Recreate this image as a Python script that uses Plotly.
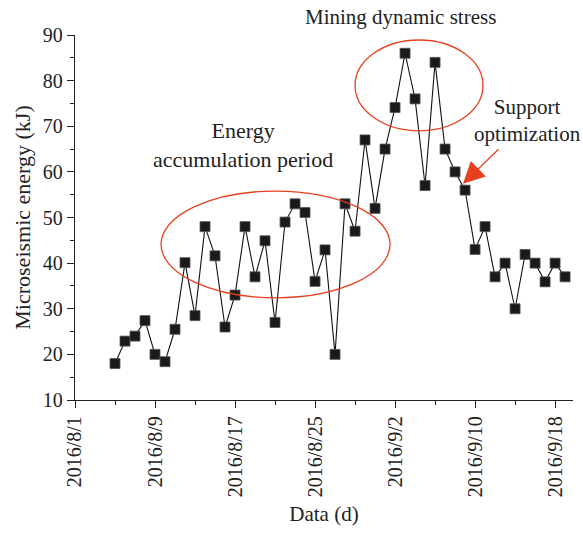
import plotly.graph_objects as go
import pandas as pd

dates = pd.date_range("2016-08-05", "2016-09-19", freq="D").strftime("%Y-%m-%d").tolist()
energy = [18.0, 22.9, 24.0, 27.4, 20.0, 18.4, 25.5, 40.1, 28.5, 48.0,
          41.6, 26.0, 33.0, 48.0, 37.0, 44.9, 27.0, 49.0, 53.0, 51.1,
          36.0, 42.9, 20.0, 53.0, 47.0, 67.0, 52.0, 65.0, 74.1, 86.0,
          76.0, 57.0, 84.0, 65.0, 60.0, 56.0, 43.0, 48.0, 37.0, 40.0,
          30.0, 41.9, 40.0, 35.9, 40.0, 37.0]

tick_vals = ["2016-08-01", "2016-08-09", "2016-08-17", "2016-08-25",
             "2016-09-02", "2016-09-10", "2016-09-18"]
tick_text = ["2016/8/1", "2016/8/9", "2016/8/17", "2016/8/25",
             "2016/9/2", "2016/9/10", "2016/9/18"]

RED = "#e8401f"
FONT = "Liberation Serif"
TXT = "#222222"

L, R, T, B = 75, 573, 35, 400
W, H = R - L, B - T


def px(xp):
    return (xp - L) / W


def py(yp):
    return (B - yp) / H


fig = go.Figure()
fig.add_trace(go.Scatter(
    x=dates, y=energy, mode="lines+markers",
    line=dict(color="#111111", width=1.1),
    marker=dict(symbol="square", size=10, color="#1a1a1a",
                line=dict(color="#555555", width=0.8)),
    showlegend=False,
))

# ellipses
fig.add_shape(type="circle", xref="x", yref="y",
              x0="2016-08-09 14:24", x1="2016-09-01 12:00", y0=32.4, y1=55.8,
              line=dict(color=RED, width=1.3))
fig.add_shape(type="circle", xref="x", yref="y",
              x0="2016-08-29 00:00", x1="2016-09-10 19:00", y0=69.0, y1=88.9,
              line=dict(color=RED, width=1.3))

fig.add_annotation(x="2016-09-08 19:00", y=57.4, xref="x", yref="y",
                   ax=37, ay=-36, showarrow=True, arrowhead=2, arrowsize=3.3,
                   arrowwidth=1.3, arrowcolor=RED, text="")

for txt, xp, yp, sz in [("Mining dynamic stress", 400, 17, 21),
                        ("Energy<br>accumulation period", 243, 145, 22),
                        ("Support<br>optimization", 527, 120, 21)]:
    fig.add_annotation(xref="paper", yref="paper", x=px(xp), y=py(yp),
                       xanchor="center", yanchor="middle",
                       text=txt, showarrow=False,
                       font=dict(family=FONT, size=sz, color=TXT))

fig.update_layout(
    width=583, height=537,
    margin=dict(l=L, r=583 - R, t=T, b=537 - B),
    paper_bgcolor="white", plot_bgcolor="white",
    font=dict(family=FONT, size=20, color=TXT),
    xaxis=dict(
        type="date", range=["2016-08-01", "2016-09-19 19:00"], automargin=False,
        tickvals=tick_vals, ticktext=tick_text, tickangle=-90,
        ticks="outside", ticklen=7, tickwidth=1.2, tickcolor=TXT,
        showline=True, linecolor=TXT, linewidth=1.3,
        showgrid=False, zeroline=False,
        tickfont=dict(family=FONT, size=20),
        minor=dict(ticks="outside", ticklen=4, tickwidth=1.1, tickcolor=TXT,
                   tick0="2016-08-01", dtick=4 * 86400000, showgrid=False),
        title=dict(text="Data (d)", font=dict(family=FONT, size=21), standoff=10),
    ),
    yaxis=dict(
        range=[10, 90], dtick=10, tick0=10, automargin=False,
        ticks="outside", ticklen=7, tickwidth=1.2, tickcolor=TXT,
        showline=True, linecolor=TXT, linewidth=1.3,
        showgrid=False, zeroline=False,
        tickfont=dict(family=FONT, size=20),
        minor=dict(ticks="outside", ticklen=4, tickwidth=1.1, tickcolor=TXT,
                   dtick=5, showgrid=False),
        title=dict(text="Microseismic energy (kJ)", font=dict(family=FONT, size=22), standoff=6),
    ),
)

fig.write_html("out.html", config={"displayModeBar": False},
               post_script="document.body.style.margin='0';document.body.style.padding='0';")
